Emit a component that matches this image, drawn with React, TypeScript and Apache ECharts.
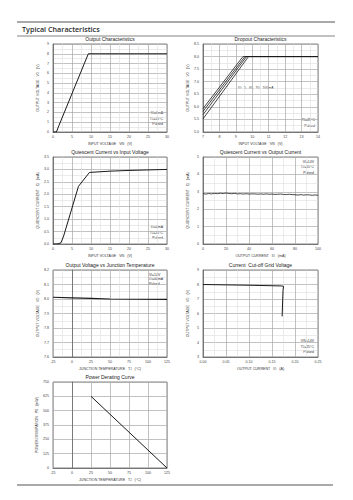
import React, { useEffect, useRef } from "react";
import * as echarts from "echarts";

// ---- data ----
const outCharVin = [0, 0.9, 1.6, 9.3, 30];
const outCharVo = [0, 0, 0.7, 8.0, 8.0];

const dropoutLabels = ["5", "40", "70", "100"];
const dropoutVin = [
  [7, 9.43, 14],
  [7, 9.55, 14],
  [7, 9.65, 14],
  [7, 9.77, 14],
];
const dropoutVo = [
  [5.93, 8.0, 8.0],
  [5.82, 8.0, 8.0],
  [5.69, 8.0, 8.0],
  [5.52, 8.0, 8.0],
];

const iqVin = [0, 1, 1.6, 2.1, 2.8, 6.7, 9.6, 15, 20, 30];
const iqVinI = [0, 0, 0.02, 0.05, 0.32, 2.32, 2.88, 2.93, 2.96, 3.0];

const iqIo = [
  0, 2.5, 5, 7.5, 10, 12.5, 15, 17.5, 20, 22.5, 25, 27.5, 30, 32.5, 35, 37.5,
  40, 42.5, 45, 47.5, 50, 52.5, 55, 57.5, 60, 62.5, 65, 67.5, 70, 72.5, 75,
  77.5, 80, 82.5, 85, 87.5, 90, 92.5, 95, 97.5, 100,
];
const iqIoI = [
  2.89, 2.87, 2.9, 2.88, 2.91, 2.89, 2.92, 2.9, 2.93, 2.9, 2.89, 2.91, 2.88,
  2.89, 2.87, 2.89, 2.87, 2.88, 2.88, 2.86, 2.88, 2.86, 2.88, 2.86, 2.87, 2.85,
  2.86, 2.87, 2.85, 2.84, 2.86, 2.84, 2.83, 2.81, 2.84, 2.81, 2.83, 2.82, 2.8,
  2.82, 2.8,
];

const tempTj = [-25, 0, 25, 50, 125];
const tempVo = [8.012, 8.008, 8.004, 8.0, 7.998];

const cutIo = [0, 0.1, 0.17, 0.175, 0.174, 0.172];
const cutVo = [8.0, 7.95, 7.9, 7.88, 7.6, 5.8];

const derTj = [25, 125];
const derPd = [625, 0];

const FONT = "'Liberation Sans', Arial, sans-serif";
const zip = (xs: number[], ys: number[]) => xs.map((x, i) => [x, ys[i]]);

type Panel = {
  left: number; top: number; width: number; height: number;
  xMin: number; xMax: number; xInt: number; xDec: number;
  yMin: number; yMax: number; yInt: number; yDec: number;
  xName: string; yName: string; title: string; minor: boolean;
  series: { data: number[][]; w?: number }[];
};

const sub = { fontSize: 2.7, fontFamily: FONT, color: "#333", verticalAlign: "bottom" as const };

function buildOption() {
  const panels: Panel[] = [
    {
      left: 53, top: 44, width: 114, height: 88,
      xMin: 0, xMax: 30, xInt: 5, xDec: 0, yMin: 0, yMax: 9, yInt: 1, yDec: 0,
      xName: "INPUT VOLTAGE   V{s|IN}   (V)", yName: "OUTPUT VOLTAGE   V{s|O}   (V)",
      title: "Output Characteristics", minor: true,
      series: [{ data: zip(outCharVin, outCharVo) }],
    },
    {
      left: 203, top: 44, width: 115, height: 88,
      xMin: 7, xMax: 14, xInt: 1, xDec: 0, yMin: 5, yMax: 8.5, yInt: 0.5, yDec: 1,
      xName: "INPUT VOLTAGE   V{s|IN}   (V)", yName: "OUTPUT VOLTAGE   V{s|O}   (V)",
      title: "Dropout Characteristics", minor: true,
      series: dropoutVin.map((xs, i) => ({ data: zip(xs, dropoutVo[i]), w: 0.8 })),
    },
    {
      left: 53, top: 157, width: 114, height: 87,
      xMin: 0, xMax: 30, xInt: 5, xDec: 0, yMin: 0, yMax: 3.5, yInt: 0.5, yDec: 1,
      xName: "INPUT VOLTAGE   V{s|IN}   (V)", yName: "QUIESCENT CURRENT   I{s|Q}   (mA)",
      title: "Quiescent Current vs Input Voltage", minor: true,
      series: [{ data: zip(iqVin, iqVinI) }],
    },
    {
      left: 203, top: 157, width: 115, height: 87,
      xMin: 0, xMax: 100, xInt: 20, xDec: 0, yMin: 0, yMax: 5, yInt: 1, yDec: 0,
      xName: "OUTPUT CURRENT   I{s|O}   (mA)", yName: "QUIESCENT CURRENT   I{s|Q}   (mA)",
      title: "Quiescent Current vs Output Current", minor: true,
      series: [{ data: zip(iqIo, iqIoI), w: 0.8 }],
    },
    {
      left: 53, top: 270, width: 114, height: 87,
      xMin: -25, xMax: 125, xInt: 25, xDec: 0, yMin: 7.6, yMax: 8.2, yInt: 0.1, yDec: 1,
      xName: "JUNCTION TEMPERATURE   T{s|J}   (°C)", yName: "OUTPUT VOLTAGE   V{s|O}   (V)",
      title: "Output Voltage vs Junction Temperature", minor: true,
      series: [{ data: zip(tempTj, tempVo), w: 1.2 }],
    },
    {
      left: 203, top: 270, width: 115, height: 87,
      xMin: 0, xMax: 0.25, xInt: 0.05, xDec: 2, yMin: 3, yMax: 9, yInt: 1, yDec: 0,
      xName: "OUTPUT CURRENT   I{s|O}   (A)", yName: "OUTPUT VOLTAGE   V{s|O}   (V)",
      title: "Current  Cut-off Grid Voltage", minor: true,
      series: [{ data: zip(cutIo, cutVo) }],
    },
    {
      left: 53, top: 382, width: 114, height: 86,
      xMin: -25, xMax: 125, xInt: 25, xDec: 0, yMin: 0, yMax: 750, yInt: 125, yDec: 0,
      xName: "JUNCTION TEMPERATURE   T{s|J}   (°C)", yName: "POWER DISSIPATION   P{s|D}   (mW)",
      title: "Power Derating Curve", minor: false,
      series: [{ data: zip(derTj, derPd) }],
    },
  ];

  const grid: any[] = [];
  const xAxis: any[] = [];
  const yAxis: any[] = [];
  const series: any[] = [];
  const graphic: any[] = [];

  const axisCommon = (p: Panel) => ({
    axisTick: { show: false },
    axisLine: { show: true, lineStyle: { color: "#666", width: 0.8 } },
    splitLine: { show: true, lineStyle: { color: "#a8a8a8", width: 0.7 } },
    minorTick: { show: false, splitNumber: 2 },
    minorSplitLine: { show: p.minor, lineStyle: { color: "#dedede", width: 0.6 } },
    nameLocation: "middle",
    nameTextStyle: { fontSize: 3.6, color: "#333", fontFamily: FONT, rich: { s: sub } },
  });

  panels.forEach((p, i) => {
    grid.push({
      left: p.left, top: p.top, width: p.width, height: p.height,
      show: true, borderColor: "#666", borderWidth: 0.8, containLabel: false,
    });
    xAxis.push({
      ...axisCommon(p),
      type: "value", gridIndex: i, min: p.xMin, max: p.xMax, interval: p.xInt,
      name: p.xName, nameGap: 10,
      axisLabel: {
        fontSize: 3.6, color: "#444", fontFamily: FONT, margin: 3,
        formatter: (v: number) => v.toFixed(p.xDec),
      },
    });
    yAxis.push({
      ...axisCommon(p),
      type: "value", gridIndex: i, min: p.yMin, max: p.yMax, interval: p.yInt,
      name: p.yName, nameGap: 13, nameRotate: 90,
      axisLabel: {
        fontSize: 3.6, color: "#444", fontFamily: FONT, margin: 4,
        formatter: (v: number) => v.toFixed(p.yDec),
      },
    });
    p.series.forEach((s) => {
      series.push({
        type: "line", xAxisIndex: i, yAxisIndex: i, data: s.data,
        showSymbol: false, symbol: "none",
        lineStyle: { color: "#1a1a1a", width: s.w ?? 1 },
      });
    });
    graphic.push({
      type: "text", x: p.left + p.width / 2, y: p.top - 5,
      style: {
        text: p.title, fontSize: 5, fontFamily: FONT, fill: "#222",
        align: "center", verticalAlign: "middle",
      },
    });
  });

  const note = (x: number, y: number, text: string, align: string = "right") => ({
    type: "text", x, y,
    style: {
      text, fontSize: 3.5, fontFamily: FONT, fill: "#333", align, verticalAlign: "middle",
      rich: { s: { fontSize: 2.6, fontFamily: FONT, fill: "#333", verticalAlign: "bottom" } },
    },
  });

  graphic.push(
    note(163, 113, "I{s|O}=0mA"), note(163, 119, "T{s|J}=25°C"), note(163, 124, "Pulsed"),
    note(238, 88, "I{s|O}:  5,  40,  70,  100mA", "left"),
    note(315, 120, "T{s|J}=25°C"), note(315, 126, "Pulsed"),
    note(163, 227, "I{s|O}=0mA"), note(163, 233, "T{s|J}=25°C"), note(163, 238, "Pulsed"),
    note(314, 162, "V{s|I}=14V"), note(314, 167, "T{s|J}=25°C"), note(314, 173, "Pulsed"),
    note(149, 275, "V{s|I}=14V", "left"), note(149, 279, "I{s|O}=40mA", "left"), note(149, 284, "Pulsed", "left"),
    note(314, 341, "V{s|IN}=14V"), note(314, 347, "T{s|J}=25°C"), note(314, 352, "Pulsed"),
  );

  // header & footer
  graphic.push(
    { type: "line", shape: { x1: 17, y1: 22, x2: 335, y2: 22 }, style: { stroke: "#555", lineWidth: 1.2 } },
    { type: "line", shape: { x1: 17, y1: 36, x2: 335, y2: 36 }, style: { stroke: "#666", lineWidth: 0.8 } },
    { type: "line", shape: { x1: 17, y1: 485, x2: 333, y2: 485 }, style: { stroke: "#555", lineWidth: 1 } },
    {
      type: "text", x: 22, y: 29,
      style: {
        text: "Typical Characteristics", fontSize: 7.2, fontWeight: 600,
        fontFamily: "'Open Sans', sans-serif", fill: "#2a2a2a", align: "left", verticalAlign: "middle",
      },
    },
  );

  return { animation: false, backgroundColor: "#fff", grid, xAxis, yAxis, series, graphic };
}

export default function App() {
  const ref = useRef<HTMLDivElement>(null);
  useEffect(() => {
    if (!ref.current) return;
    const chart = echarts.init(ref.current, undefined, { renderer: "svg" });
    chart.setOption(buildOption() as any);
    return () => chart.dispose();
  }, []);
  return (
    <div
      ref={ref}
      style={{ position: "absolute", left: 0, top: 0, width: 353, height: 500, background: "#fff" }}
    />
  );
}
